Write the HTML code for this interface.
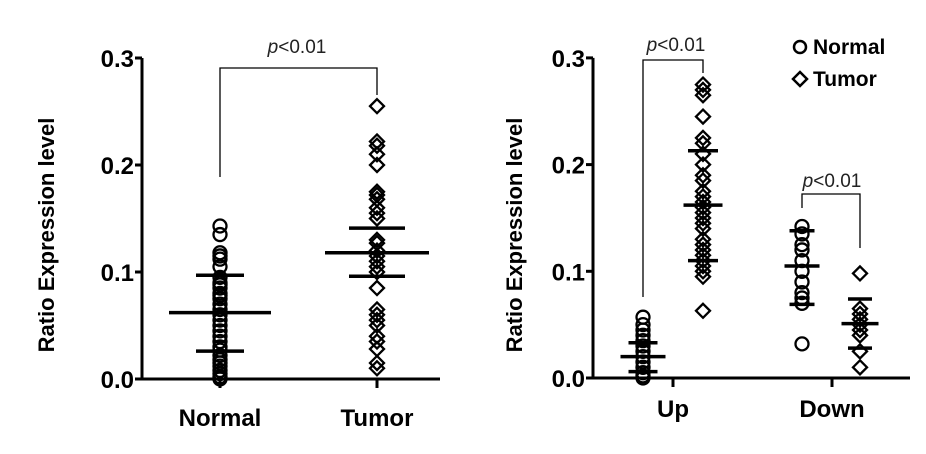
<!DOCTYPE html>
<html><head><meta charset="utf-8"><style>
body{margin:0;background:#fff;}
svg{display:block;font-family:"Liberation Sans",sans-serif;}
</style></head><body>
<svg id="chart" width="926" height="454" viewBox="0 0 926 454"></svg>
<script>
const groupsLeft = ["Normal","Tumor"];
const leftNormal = [0.143,0.135,0.118,0.115,0.112,0.105,0.095,0.09,0.088,0.085,0.08,0.078,0.075,0.07,0.065,0.06,0.055,0.05,0.045,0.04,0.035,0.03,0.027,0.022,0.018,0.015,0.012,0.008,0.005,0.002,0];
const leftTumor = [0.255,0.222,0.218,0.21,0.2,0.175,0.172,0.168,0.16,0.155,0.15,0.13,0.127,0.12,0.115,0.11,0.105,0.1,0.085,0.065,0.06,0.055,0.05,0.04,0.035,0.028,0.015,0.01];
const leftStats = [[0.062,0.097,0.026],[0.118,0.141,0.096]]; // mean, upper, lower
const groupsRight = ["Up","Down"];
const upNormal = [0.057,0.05,0.045,0.04,0.035,0.03,0.025,0.02,0.015,0.01,0.005,0.002,0];
const upTumor = [0.275,0.27,0.265,0.245,0.225,0.22,0.21,0.2,0.19,0.185,0.175,0.17,0.165,0.16,0.155,0.15,0.145,0.14,0.13,0.125,0.12,0.115,0.11,0.105,0.1,0.095,0.063];
const downNormal = [0.142,0.135,0.125,0.12,0.11,0.1,0.09,0.08,0.075,0.07,0.032];
const downTumor = [0.098,0.065,0.06,0.055,0.05,0.045,0.04,0.025,0.01];
const rightStats = [[0.02,0.033,0.006],[0.162,0.213,0.110],[0.105,0.138,0.069],[0.051,0.074,0.028]];
const yTicks = [0,0.1,0.2,0.3];
const yTickLabels = ["0.0","0.1","0.2","0.3"];

const svg = document.getElementById('chart');
const NS = "http://www.w3.org/2000/svg";
function mk(tag, attrs, parent){const e=document.createElementNS(NS,tag);for(const k in attrs)e.setAttribute(k,attrs[k]);(parent||svg).appendChild(e);return e;}
function yL(v){return 379-1070*v;}
function yR(v){return 378-1067*v;}

function axes(ax, x0, x1, yf, ticksX, titleX, name){
  const g = mk('g',{});
  
  
  mk('line',{x1:ax,y1:yf(0.3),x2:ax,y2:yf(0)+1.5,stroke:'#000','stroke-width':3},g);
  mk('line',{x1:ax-1.5,y1:yf(0),x2:x1,y2:yf(0),stroke:'#000','stroke-width':3},g);
  yTicks.forEach((t,i)=>{
    mk('line',{x1:ax-7,y1:yf(t),x2:ax,y2:yf(t),stroke:'#000','stroke-width':3},g);
    const tx = mk('text',{x:ax-8,y:yf(t)+9,'text-anchor':'end','font-size':24,'font-weight':'bold'},g);
    tx.textContent = yTickLabels[i];
    
    
  });
  ticksX.forEach(tk=>{
    mk('line',{x1:tk.x,y1:yf(0),x2:tk.x,y2:yf(0)+9,stroke:'#000','stroke-width':3},g);
    const tx = mk('text',{x:tk.x,y:tk.ly,'text-anchor':'middle','font-size':24,'font-weight':'bold'},g);
    tx.textContent = tk.label;
    
    
  });
  const t = mk('text',{x:titleX,y:235,'text-anchor':'middle','font-size':22,'font-weight':'bold',transform:`rotate(-90 ${titleX} 235)`},g);
  t.textContent = "Ratio Expression level";
  
  
}

function points(vals, x, yf, shape){
  vals.forEach(v=>{
    const y=yf(v); let e;
    if(shape==='circle') e=mk('circle',{cx:x,cy:y,r:6.5,fill:'none',stroke:'#000','stroke-width':2.3});
    else e=mk('polygon',{points:`${x},${y-7} ${x+7},${y} ${x},${y+7} ${x-7},${y}`,fill:'none',stroke:'#000','stroke-width':2.3});
    
    
  });
}
function stats(s, x, yf, mw, bw){
  const m=mk('line',{x1:x-mw/2,y1:yf(s[0]),x2:x+mw/2,y2:yf(s[0]),stroke:'#000','stroke-width':3.5});
  
  
  [s[1],s[2]].forEach(v=>{
    const e=mk('line',{x1:x-bw/2,y1:yf(v),x2:x+bw/2,y2:yf(v),stroke:'#000','stroke-width':3.5});
    
    
  });
}
function bracket(xa, xb, top, ya, yb, tx, ty){
  const p=mk('path',{d:`M${xa},${ya} V${top} H${xb} V${yb}`,fill:'none',stroke:'#000','stroke-width':1.3});
  
  
  const t=mk('text',{x:tx,y:ty,'text-anchor':'middle','font-size':19,fill:'#222'});
  t.innerHTML='<tspan font-style="italic">p</tspan>&lt;0.01';
  
  
}

// Left chart
axes(142, 142, 440, yL, [{x:220,ly:426,label:groupsLeft[0]},{x:377,ly:426,label:groupsLeft[1]}], 54, 'left');
points(leftNormal, 220, yL, 'circle');
points(leftTumor, 377, yL, 'diamond');
stats(leftStats[0], 220, yL, 102, 48);
stats(leftStats[1], 377, yL, 104, 56);
bracket(220, 377, 68, 177, 95, 297, 53);

// Right chart
axes(593, 593, 910, yR, [{x:673,ly:417,label:groupsRight[0]},{x:832,ly:417,label:groupsRight[1]}], 522, 'right');
points(upNormal, 643, yR, 'circle');
points(upTumor, 703, yR, 'diamond');
points(downNormal, 802, yR, 'circle');
points(downTumor, 860, yR, 'diamond');
stats(rightStats[0], 643, yR, 45, 29);
stats(rightStats[1], 703, yR, 39, 30);
stats(rightStats[2], 802, yR, 35, 25);
stats(rightStats[3], 860, yR, 37, 24);
bracket(643, 703, 60, 297, 73, 676, 51);
bracket(802, 860, 194, 208, 248, 832, 187);

// Legend
const lg = mk('g',{});


mk('circle',{cx:800,cy:47,r:6,fill:'none',stroke:'#000','stroke-width':2.5},lg);
mk('polygon',{points:'800,72 807,79 800,86 793,79',fill:'none',stroke:'#000','stroke-width':2.5},lg);
const l1=mk('text',{x:813,y:54,'font-size':21,'font-weight':'bold'},lg); l1.textContent='Normal';


const l2=mk('text',{x:813,y:86,'font-size':21,'font-weight':'bold'},lg); l2.textContent='Tumor';


</script>
</body></html>
